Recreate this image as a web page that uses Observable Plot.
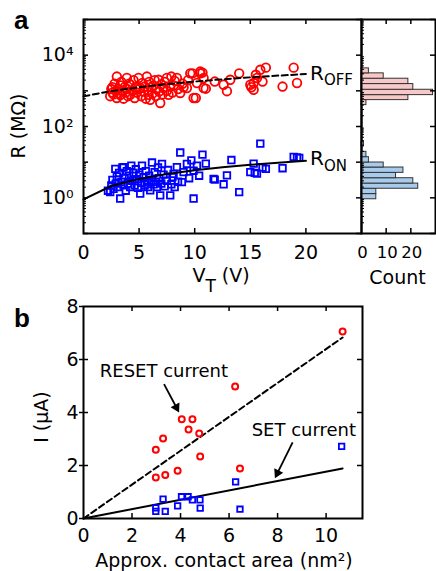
<!DOCTYPE html>
<html><head><meta charset="utf-8">
<script src="https://cdn.jsdelivr.net/npm/d3@7"></script>
<script src="https://cdn.jsdelivr.net/npm/@observablehq/plot@0.6"></script>
<style>
body{margin:0;background:#fff;}
#wrap{position:relative;width:436px;height:571px;overflow:hidden;background:#fff;}
</style></head><body><div id="wrap"></div>
<script>
// ---------- Panel a data ----------
const offV = [2.4,2.5,2.6,2.6,2.7,2.8,2.9,3.0,3.0,3.1,3.2,3.3,3.3,3.4,3.5,3.6,3.7,3.8,3.9,3.9,4.0,
  4.1,4.2,4.2,4.4,4.5,4.6,4.7,4.8,4.95,5.0,5.1,5.2,5.3,5.4,5.5,5.6,5.7,5.8,5.85,5.9,6.0,
  6.1,6.2,6.3,6.4,6.5,6.6,6.75,6.8,6.9,7.0,7.1,7.2,7.3,7.5,7.5,7.65,7.8,7.9,8.0,
  8.1,8.2,8.4,8.5,8.7,8.9,9.0,9.3,9.4,9.6,9.8,9.9,10.1,10.2,10.5,10.5,
  10.7,10.8,10.8,11.0,11.8,12.6,12.9,13.2,14.0,15.0,15.1,15.3,15.3,15.5,15.6,15.9,16.1,16.4,17.9,18.9,19.2];
const offLogR = [2.85,3.05,2.95,3.10,2.90,3.20,3.00,3.40,2.80,3.05,2.92,3.15,2.88,3.25,3.00,2.78,3.10,2.95,3.36,3.05,2.85,
  3.20,2.89,3.17,3.00,3.30,2.80,3.10,2.95,3.36,3.05,3.08,2.85,3.22,2.98,3.12,2.78,3.40,3.02,2.89,3.25,2.75,
  3.10,2.92,3.15,3.30,2.85,3.05,3.31,2.98,2.66,3.18,2.90,3.08,3.25,3.36,3.00,2.89,3.12,3.40,2.95,
  3.15,3.28,3.36,3.05,2.94,3.20,3.10,3.08,3.30,3.49,3.49,2.80,2.80,3.22,3.54,3.49,
  3.51,3.36,3.08,3.06,3.26,3.17,2.99,3.31,3.49,3.17,3.10,3.03,3.22,3.45,3.36,3.59,3.26,3.65,3.12,3.65,3.22];
const onV = [2.2,2.4,2.5,2.6,2.7,2.86,2.9,3.0,3.1,3.2,3.3,3.4,3.5,3.6,3.6,3.7,3.8,3.9,4.0,
  4.1,4.2,4.3,4.4,4.5,4.6,4.7,4.8,4.9,5.0,5.1,5.2,5.26,5.4,5.5,5.6,5.7,5.8,5.9,6.0,
  6.1,6.16,6.3,6.4,6.5,6.6,6.7,6.8,6.9,7.0,7.06,7.2,7.3,7.5,7.6,7.8,7.9,8.0,
  8.1,8.2,8.4,8.5,8.7,8.85,9.0,9.3,9.5,9.7,9.9,9.9,10.2,10.4,10.7,
  11.0,11.7,11.8,12.6,12.9,13.3,14.0,15.0,15.3,15.4,15.6,15.9,16.1,16.4,17.9,18.9,19.2,19.4];
const onLogR = [0.20,0.16,0.35,0.50,0.25,0.81,0.40,0.60,0.30,0.70,-0.02,0.45,0.85,0.86,0.35,0.55,0.20,0.75,0.40,
  0.62,0.30,0.90,0.48,0.70,0.35,0.80,0.52,0.28,0.65,0.12,0.42,0.90,0.58,0.36,0.75,0.45,0.30,0.62,0.21,
  0.50,0.99,0.38,0.72,0.45,0.30,0.85,0.55,0.07,0.40,0.95,0.65,0.32,0.48,0.78,0.07,0.38,0.58,
  0.67,0.30,0.86,0.45,1.27,0.44,0.72,0.95,0.55,1.05,0.76,-0.02,0.90,0.62,1.21,
  0.96,0.53,0.51,0.38,0.63,1.06,0.16,0.72,0.96,0.70,0.68,1.52,0.85,0.81,0.83,1.15,1.13,1.12];
// fitted trend lines
const fitV = [0, 2.5, 5, 7.5, 10, 12.5, 15, 17.5, 20];
const fitOff = [700, 980, 1260, 1545, 1825, 2105, 2390, 2670, 2950];
const fitOn = [0.9, 2.15, 3.4, 4.65, 5.9, 7.15, 8.4, 9.65, 10.9];
// histograms (log10 bin edges, counts)
const offEdges = [2.60, 2.74, 2.88, 3.03, 3.19, 3.34, 3.49, 3.63];
const offCounts = [2, 19, 29, 21, 19, 9, 3];
const onEdges = [-0.04, 0.105, 0.255, 0.40, 0.55, 0.70, 0.85, 0.99, 1.14, 1.29, 1.44, 1.57];
const onCounts = [6, 6, 23, 21, 14, 17, 9, 3, 2, 0, 1];
const vtTicks = [0, 5, 10, 15, 20];
const rTicks = [1, 100, 10000];
const rTickLabels = ["10⁰", "10²", "10⁴"];
const countTicks = [0, 10, 20];

// ---------- Panel b data ----------
const resetArea = [2.98, 3.28, 2.98, 3.37, 3.88, 4.05, 4.49, 4.33, 4.77, 4.81, 6.25, 6.45, 10.68];
const resetI = [2.59, 3.02, 1.55, 1.64, 1.80, 3.75, 3.75, 3.36, 3.21, 2.34, 4.98, 1.89, 7.06];
const setArea = [2.98, 2.98, 3.28, 3.37, 3.88, 4.04, 4.31, 4.49, 4.80, 4.81, 6.27, 6.45, 10.64];
const setI = [0.27, 0.40, 0.73, 0.27, 0.48, 0.82, 0.82, 0.70, 0.70, 0.39, 1.38, 0.35, 2.72];
const resetFitA = [0, 10.68], resetFitI = [0, 6.83];
const setFitA = [0, 10.68], setFitI = [0, 1.89];
const annoText = ["RESET current", "SET current"];
const annoX = [0.67, 6.93], annoY = [5.57, 3.34];
const arrowFrom = [[3.32, 5.07], [8.62, 2.87]];
const arrowTo = [[3.94, 4.0], [7.89, 1.52]];
const areaTicks = [0, 2, 4, 6, 8, 10];
const iTicks = [0, 2, 4, 6, 8];

// ---------- helpers ----------
const font = "DejaVu Sans";
const wrap = document.getElementById("wrap");
const baseStyle = {fontFamily: font, fontSize: "19px", background: "transparent", color: "black", overflow: "visible"};
function place(svg, left, top) {
  svg.style.position = "absolute"; svg.style.left = left + "px"; svg.style.top = top + "px";
  svg.style.maxWidth = "none";
  wrap.appendChild(svg); return svg;
}
function addLabel(svg, x, y, parts, {anchor = "middle", rotate = 0, size = 19, weight = null, family = font} = {}) {
  const t = d3.select(svg).append("text")
    .attr("transform", `translate(${x},${y})` + (rotate ? ` rotate(${rotate})` : ""))
    .attr("text-anchor", anchor).attr("font-family", family).attr("font-size", size).attr("fill", "black");
  if (weight) t.attr("font-weight", weight);
  let shift = 0;
  for (const [txt, sz = size, off = 0] of parts) {
    t.append("tspan").attr("font-size", sz).attr("dy", off - shift).text(txt);
    shift = off;
  }
}
const decades = [0.1, 1, 10, 100, 1000, 10000, 100000];
const minor = [];
for (let e = -1; e < 5; e++) for (let m = 2; m < 10; m++) minor.push(m * 10 ** e);

// ---------- Panel a: scatter ----------
const offPts = offV.map((v, i) => ({v, r: 10 ** offLogR[i]}));
const onPts = onV.map((v, i) => ({v, r: 10 ** onLogR[i]}));
const fitPts = fitV.map((v, i) => ({v, off: fitOff[i], on: fitOn[i]}));
const aW = 362, aH = 300, aML = 83, aMR = 1, aMT = 19, aMB = 67;
const aFW = aW - aML - aMR, aFH = aH - aMT - aMB;
const svgA = Plot.plot({
  width: aW, height: aH, marginLeft: aML, marginRight: aMR, marginTop: aMT, marginBottom: aMB,
  style: baseStyle,
  x: {domain: [0, 25], label: null},
  y: {type: "log", domain: [0.1, 1e5], label: null},
  marks: [
    Plot.dot(offPts, {x: "v", y: "r", r: 4.3, stroke: "#ff0000", strokeWidth: 1.8, symbol: "circle"}),
    Plot.dot(onPts, {x: "v", y: "r", r: 3.7, stroke: "#0000ff", strokeWidth: 1.8, symbol: "square"}),
    Plot.line(fitPts, {x: "v", y: "off", stroke: "black", strokeWidth: 2, strokeDasharray: "6,3.5"}),
    Plot.line(fitPts, {x: "v", y: "on", stroke: "black", strokeWidth: 2}),
    Plot.tickX(vtTicks.slice(1), {x: d => d, insetTop: aFH - 5, strokeWidth: 1.5}),
    Plot.tickX(vtTicks.slice(1), {x: d => d, insetBottom: aFH - 5, strokeWidth: 1.5}),
    Plot.tickY(decades, {y: d => d, insetRight: aFW - 5, strokeWidth: 1.5}),
    Plot.tickY(decades, {y: d => d, insetLeft: aFW - 5, strokeWidth: 1.5}),
    Plot.tickY(minor, {y: d => d, insetRight: aFW - 3, strokeWidth: 1}),
    Plot.frame({strokeWidth: 2}),
    Plot.axisX(vtTicks, {tickSize: 0, tickPadding: 11.5, fontSize: 19}),
    Plot.axisY(rTicks, {tickSize: 0, tickPadding: 10, fontSize: 19, tickFormat: d => rTickLabels[rTicks.indexOf(d)]})
  ]
});
place(svgA, 0, 0);
addLabel(svgA, 14, 29, [["a"]], {anchor: "start", size: 26, weight: "bold", family: "Liberation Sans"});
addLabel(svgA, 25, 126, [["R (MΩ)"]], {rotate: -90});
addLabel(svgA, 221, 282, [["V"], ["T", 17, 10], [" (V)", 19, 0]]);
addLabel(svgA, 310, 80, [["R", 20], ["OFF", 15, 5]], {anchor: "start"});
addLabel(svgA, 310, 165, [["R", 20], ["ON", 15, 5.5]], {anchor: "start"});

// ---------- Panel a: histogram ----------
const offBins = offCounts.map((c, i) => ({count: c, lo: 10 ** offEdges[i], hi: 10 ** offEdges[i + 1]})).filter(d => d.count > 0);
const onBins = onCounts.map((c, i) => ({count: c, lo: 10 ** onEdges[i], hi: 10 ** onEdges[i + 1]})).filter(d => d.count > 0);
const hW = 96, hML = 21, hMR = 1, hFW = hW - hML - hMR;
const svgH = Plot.plot({
  width: hW, height: aH, marginLeft: hML, marginRight: hMR, marginTop: aMT, marginBottom: aMB,
  style: baseStyle,
  x: {domain: [0, 30], label: null},
  y: {type: "log", domain: [0.1, 1e5], label: null, axis: null},
  marks: [
    Plot.rect(offBins, {x1: d => 0, x2: "count", y1: "lo", y2: "hi", fill: "#f8c8c8", stroke: "#333", strokeWidth: 1}),
    Plot.rect(onBins, {x1: d => 0, x2: "count", y1: "lo", y2: "hi", fill: "#a9cbeb", stroke: "#333", strokeWidth: 1}),
    Plot.tickX([10, 20], {x: d => d, insetTop: aFH - 5, strokeWidth: 1.5}),
    Plot.tickX([10, 20], {x: d => d, insetBottom: aFH - 5, strokeWidth: 1.5}),
    Plot.tickY(decades, {y: d => d, insetLeft: hFW - 5, strokeWidth: 1.5}),
    Plot.tickY(minor, {y: d => d, insetRight: hFW - 3, strokeWidth: 1}),
    Plot.frame({strokeWidth: 2}),
    Plot.axisX(countTicks, {tickSize: 0, tickPadding: 12.5, fontSize: 16.5, dx: 1})
  ]
});
place(svgH, 340, 0);
addLabel(svgH, 57.5, 284, [["Count"]]);

// ---------- Panel b ----------
const resetPts = resetArea.map((a, i) => ({a, i: resetI[i]}));
const setPts = setArea.map((a, i) => ({a, i: setI[i]}));
const resetFit = resetFitA.map((a, i) => ({a, i: resetFitI[i]}));
const setFit = setFitA.map((a, i) => ({a, i: setFitI[i]}));
const annos = annoText.map((t, k) => ({t, x: annoX[k], y: annoY[k]}));
const bW = 436, bH = 281, bML = 83, bMR = 74, bMT = 16, bMB = 53;
const bFW = bW - bML - bMR, bFH = bH - bMT - bMB;
const kx = bFW / 11.5, ky = bFH / 8; // px per data unit
const headR = 3.7, headBack = 2 * Math.sqrt(Math.PI * headR * headR / (3 * Math.sqrt(3)));
const arrows = arrowFrom.map((f, k) => {
  const [x1, y1] = f, [x2, y2] = arrowTo[k];
  const pdx = (x2 - x1) * kx, pdy = -(y2 - y1) * ky, L = Math.hypot(pdx, pdy);
  const ux = pdx / L, uy = pdy / L;
  return {x1, y1, x2, y2,
    hx: x2 - ux * headBack / kx, hy: y2 + uy * headBack / ky,
    sx: x2 - ux * (headBack + 1) / kx, sy: y2 + uy * (headBack + 1) / ky,
    rot: Math.atan2(pdx, -pdy) * 180 / Math.PI};
});
const svgB = Plot.plot({
  width: bW, height: bH, marginLeft: bML, marginRight: bMR, marginTop: bMT, marginBottom: bMB,
  style: baseStyle,
  x: {domain: [0, 11.5], label: null},
  y: {domain: [0, 8], label: null},
  marks: [
    Plot.line(resetFit, {x: "a", y: "i", stroke: "black", strokeWidth: 2, strokeDasharray: "6,3.5"}),
    Plot.line(setFit, {x: "a", y: "i", stroke: "black", strokeWidth: 2}),
    Plot.dot(resetPts, {x: "a", y: "i", r: 3, stroke: "#ff0000", strokeWidth: 2, symbol: "circle"}),
    Plot.dot(setPts, {x: "a", y: "i", r: 3.1, stroke: "#0000ff", strokeWidth: 1.8, symbol: "square"}),
    Plot.link(arrows, {x1: "x1", y1: "y1", x2: "sx", y2: "sy", stroke: "black", strokeWidth: 1.8}),
    Plot.dot(arrows, {x: "hx", y: "hy", symbol: "triangle", r: headR, rotate: "rot", fill: "black", stroke: null}),
    Plot.text(annos, {x: "x", y: "y", text: "t", textAnchor: "start", fontSize: 18, fill: "black"}),
    Plot.tickX(areaTicks.slice(1), {x: d => d, insetTop: bFH - 5, strokeWidth: 1.5}),
    Plot.tickX(areaTicks.slice(1), {x: d => d, insetBottom: bFH - 5, strokeWidth: 1.5}),
    Plot.tickY(iTicks.slice(1, -1), {y: d => d, insetRight: bFW - 5, strokeWidth: 1.5}),
    Plot.tickY(iTicks.slice(1, -1), {y: d => d, insetLeft: bFW - 5, strokeWidth: 1.5}),
    Plot.frame({strokeWidth: 2}),
    Plot.axisX(areaTicks, {tickSize: 0, tickPadding: 10, fontSize: 19}),
    Plot.axisY(iTicks, {tickSize: 4, tickPadding: 1, fontSize: 19, strokeWidth: 1.5})
  ]
});
place(svgB, 0, 290);
addLabel(svgB, 14, 37, [["b"]], {anchor: "start", size: 26, weight: "bold", family: "Liberation Sans"});
addLabel(svgB, 47.5, 127, [["I (μA)"]], {rotate: -90});
addLabel(svgB, 224, 277, [["Approx. contact area (nm²)"]]);
</script></body></html>
